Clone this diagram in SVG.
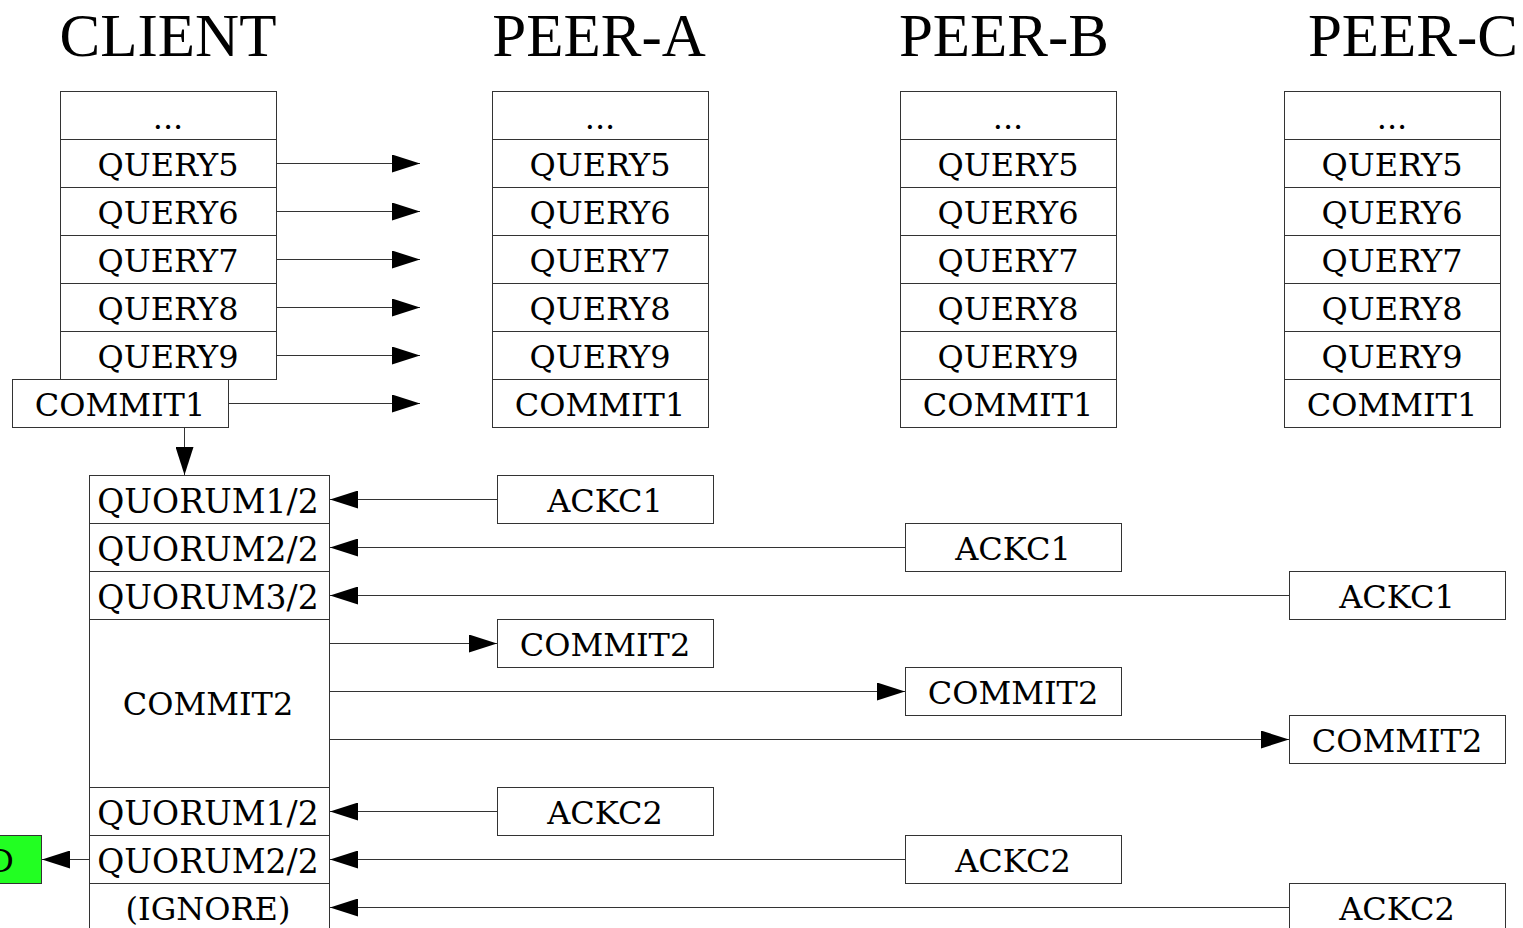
<svg xmlns="http://www.w3.org/2000/svg" width="1523" height="928" viewBox="0 0 1523 928">
  <style>
    .box { fill: #fff; stroke: #333; stroke-width: 1; }
    .ok { fill: #22ff22; stroke: #333; stroke-width: 1; }
    .t { font-family: "DejaVu Serif", serif; font-size: 32px; fill: #000; text-anchor: middle; }
    .q { font-size: 33px; }
    .title { font-family: "Liberation Serif", "Times New Roman", serif; font-size: 61px; fill: #000; text-anchor: middle; }
    .edge { stroke: #333; stroke-width: 1; fill: none; marker-end: url(#head); }
  </style>
  <defs>
    <marker id="head" markerUnits="userSpaceOnUse" markerWidth="28" markerHeight="18" refX="28" refY="9" orient="auto">
      <polygon points="0,0 28,9 0,18" fill="#000"/>
    </marker>
  </defs>

  <!-- column titles -->
  <g id="titles">
    <text class="title" x="168" y="56">CLIENT</text>
    <text class="title" x="599" y="56">PEER-A</text>
    <text class="title" x="1004" y="56">PEER-B</text>
    <text class="title" x="1413" y="56">PEER-C</text>
  </g>

  <!-- client log -->
  <g id="client-log">
    <rect class="box" x="60.5" y="91.5" width="216" height="48"/>
    <text class="t" x="168" y="129">...</text>
    <rect class="box" x="60.5" y="139.5" width="216" height="48"/>
    <text class="t" x="168" y="176">QUERY5</text>
    <rect class="box" x="60.5" y="187.5" width="216" height="48"/>
    <text class="t" x="168" y="224">QUERY6</text>
    <rect class="box" x="60.5" y="235.5" width="216" height="48"/>
    <text class="t" x="168" y="272">QUERY7</text>
    <rect class="box" x="60.5" y="283.5" width="216" height="48"/>
    <text class="t" x="168" y="320">QUERY8</text>
    <rect class="box" x="60.5" y="331.5" width="216" height="48"/>
    <text class="t" x="168" y="368">QUERY9</text>
  </g>
  <g id="client-commit1">
    <rect class="box" x="12.5" y="379.5" width="216" height="48"/>
    <text class="t" x="120" y="416">COMMIT1</text>
  </g>

  <!-- peer logs -->
  <g id="peer-a-log">
    <rect class="box" x="492.5" y="91.5" width="216" height="48"/>
    <text class="t" x="600" y="129">...</text>
    <rect class="box" x="492.5" y="139.5" width="216" height="48"/>
    <text class="t" x="600" y="176">QUERY5</text>
    <rect class="box" x="492.5" y="187.5" width="216" height="48"/>
    <text class="t" x="600" y="224">QUERY6</text>
    <rect class="box" x="492.5" y="235.5" width="216" height="48"/>
    <text class="t" x="600" y="272">QUERY7</text>
    <rect class="box" x="492.5" y="283.5" width="216" height="48"/>
    <text class="t" x="600" y="320">QUERY8</text>
    <rect class="box" x="492.5" y="331.5" width="216" height="48"/>
    <text class="t" x="600" y="368">QUERY9</text>
    <rect class="box" x="492.5" y="379.5" width="216" height="48"/>
    <text class="t" x="600" y="416">COMMIT1</text>
  </g>
  <g id="peer-b-log">
    <rect class="box" x="900.5" y="91.5" width="216" height="48"/>
    <text class="t" x="1008" y="129">...</text>
    <rect class="box" x="900.5" y="139.5" width="216" height="48"/>
    <text class="t" x="1008" y="176">QUERY5</text>
    <rect class="box" x="900.5" y="187.5" width="216" height="48"/>
    <text class="t" x="1008" y="224">QUERY6</text>
    <rect class="box" x="900.5" y="235.5" width="216" height="48"/>
    <text class="t" x="1008" y="272">QUERY7</text>
    <rect class="box" x="900.5" y="283.5" width="216" height="48"/>
    <text class="t" x="1008" y="320">QUERY8</text>
    <rect class="box" x="900.5" y="331.5" width="216" height="48"/>
    <text class="t" x="1008" y="368">QUERY9</text>
    <rect class="box" x="900.5" y="379.5" width="216" height="48"/>
    <text class="t" x="1008" y="416">COMMIT1</text>
  </g>
  <g id="peer-c-log">
    <rect class="box" x="1284.5" y="91.5" width="216" height="48"/>
    <text class="t" x="1392" y="129">...</text>
    <rect class="box" x="1284.5" y="139.5" width="216" height="48"/>
    <text class="t" x="1392" y="176">QUERY5</text>
    <rect class="box" x="1284.5" y="187.5" width="216" height="48"/>
    <text class="t" x="1392" y="224">QUERY6</text>
    <rect class="box" x="1284.5" y="235.5" width="216" height="48"/>
    <text class="t" x="1392" y="272">QUERY7</text>
    <rect class="box" x="1284.5" y="283.5" width="216" height="48"/>
    <text class="t" x="1392" y="320">QUERY8</text>
    <rect class="box" x="1284.5" y="331.5" width="216" height="48"/>
    <text class="t" x="1392" y="368">QUERY9</text>
    <rect class="box" x="1284.5" y="379.5" width="216" height="48"/>
    <text class="t" x="1392" y="416">COMMIT1</text>
  </g>

  <!-- client quorum tracking -->
  <g id="client-quorum">
    <rect class="box" x="89.5" y="475.5" width="240" height="48"/>
    <text class="t q" x="208" y="513">QUORUM1/2</text>
    <rect class="box" x="89.5" y="523.5" width="240" height="48"/>
    <text class="t q" x="208" y="561">QUORUM2/2</text>
    <rect class="box" x="89.5" y="571.5" width="240" height="48"/>
    <text class="t q" x="208" y="609">QUORUM3/2</text>
    <rect class="box" x="89.5" y="619.5" width="240" height="168"/>
    <text class="t" x="208" y="715">COMMIT2</text>
    <rect class="box" x="89.5" y="787.5" width="240" height="48"/>
    <text class="t q" x="208" y="825">QUORUM1/2</text>
    <rect class="box" x="89.5" y="835.5" width="240" height="48"/>
    <text class="t q" x="208" y="873">QUORUM2/2</text>
    <rect class="box" x="89.5" y="883.5" width="240" height="48"/>
    <text class="t" x="208" y="920">(IGNORE)</text>
  </g>

  <g id="done">
    <rect class="ok" x="-40.5" y="835.5" width="82" height="48"/>
    <text class="t" x="1" y="872">D</text>
  </g>

  <!-- peer replies and commits -->
  <g id="ack1-a"><rect class="box" x="497.5" y="475.5" width="216" height="48"/><text class="t" x="605" y="512">ACKC1</text></g>
  <g id="ack1-b"><rect class="box" x="905.5" y="523.5" width="216" height="48"/><text class="t" x="1013" y="560">ACKC1</text></g>
  <g id="ack1-c"><rect class="box" x="1289.5" y="571.5" width="216" height="48"/><text class="t" x="1397" y="608">ACKC1</text></g>
  <g id="commit2-a"><rect class="box" x="497.5" y="619.5" width="216" height="48"/><text class="t" x="605" y="656">COMMIT2</text></g>
  <g id="commit2-b"><rect class="box" x="905.5" y="667.5" width="216" height="48"/><text class="t" x="1013" y="704">COMMIT2</text></g>
  <g id="commit2-c"><rect class="box" x="1289.5" y="715.5" width="216" height="48"/><text class="t" x="1397" y="752">COMMIT2</text></g>
  <g id="ack2-a"><rect class="box" x="497.5" y="787.5" width="216" height="48"/><text class="t" x="605" y="824">ACKC2</text></g>
  <g id="ack2-b"><rect class="box" x="905.5" y="835.5" width="216" height="48"/><text class="t" x="1013" y="872">ACKC2</text></g>
  <g id="ack2-c"><rect class="box" x="1289.5" y="883.5" width="216" height="48"/><text class="t" x="1397" y="920">ACKC2</text></g>

  <!-- connectors -->
  <g id="connectors">
    <line class="edge" x1="277" y1="163.5" x2="420" y2="163.5"/>
    <line class="edge" x1="277" y1="211.5" x2="420" y2="211.5"/>
    <line class="edge" x1="277" y1="259.5" x2="420" y2="259.5"/>
    <line class="edge" x1="277" y1="307.5" x2="420" y2="307.5"/>
    <line class="edge" x1="277" y1="355.5" x2="420" y2="355.5"/>
    <line class="edge" x1="229" y1="403.5" x2="420" y2="403.5"/>
    <line class="edge" x1="184.5" y1="428" x2="184.5" y2="475"/>

    <line class="edge" x1="497" y1="499.5" x2="330" y2="499.5"/>
    <line class="edge" x1="905" y1="547.5" x2="330" y2="547.5"/>
    <line class="edge" x1="1289" y1="595.5" x2="330" y2="595.5"/>

    <line class="edge" x1="330" y1="643.5" x2="497" y2="643.5"/>
    <line class="edge" x1="330" y1="691.5" x2="905" y2="691.5"/>
    <line class="edge" x1="330" y1="739.5" x2="1289" y2="739.5"/>

    <line class="edge" x1="497" y1="811.5" x2="330" y2="811.5"/>
    <line class="edge" x1="905" y1="859.5" x2="330" y2="859.5"/>
    <line class="edge" x1="1289" y1="907.5" x2="330" y2="907.5"/>

    <line class="edge" x1="89" y1="859.5" x2="42" y2="859.5"/>
  </g>
</svg>
